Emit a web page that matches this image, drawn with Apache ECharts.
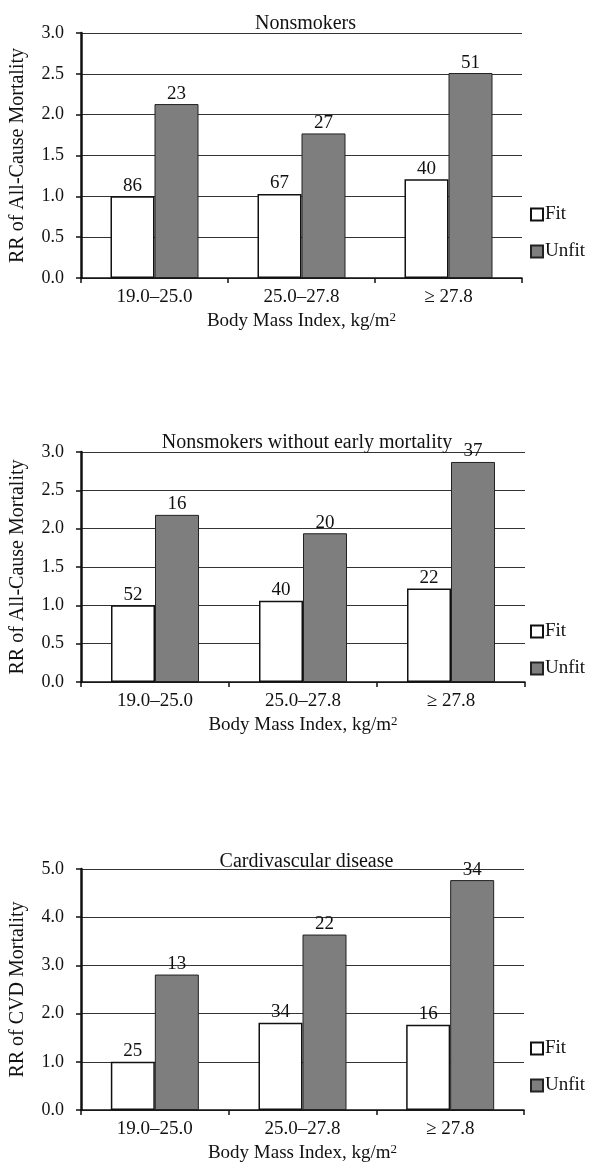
<!DOCTYPE html>
<html>
<head>
<meta charset="utf-8">
<script src="https://cdn.jsdelivr.net/npm/echarts@6/dist/echarts.min.js"></script>
<style>
html,body{margin:0;padding:0;background:#fff;}
#main{width:596px;height:1169px;}
</style>
</head>
<body>
<div id="main"></div>
<script>
// ---- data ----
var categories = ['19.0\u201325.0', '25.0\u201327.8', '\u2265 27.8'];
var panelTitles = ['Nonsmokers', 'Nonsmokers without early mortality', 'Cardivascular disease'];
var yNames = ['RR of All-Cause Mortality', 'RR of All-Cause Mortality', 'RR of CVD Mortality'];
var seriesNames = ['Fit', 'Unfit'];

var fit1 = [1.0, 1.03, 1.21];
var unfit1 = [2.13, 1.77, 2.51];
var fitN1 = [86, 67, 40];
var unfitN1 = [23, 27, 51];

var fit2 = [1.0, 1.06, 1.22];
var unfit2 = [2.18, 1.94, 2.87];
var fitN2 = [52, 40, 22];
var unfitN2 = [16, 20, 37];

var fit3 = [1.0, 1.81, 1.77];
var unfit3 = [2.81, 3.64, 4.77];
var fitN3 = [25, 34, 16];
var unfitN3 = [13, 22, 34];

var yMax = [3.0, 3.0, 5.0];
var yInterval = [0.5, 0.5, 1.0];

// ---- layout ----
var grids = [
  {left: 81, width: 441, top: 33, height: 245},
  {left: 81, width: 444, top: 452, height: 230},
  {left: 81, width: 443, top: 869, height: 241}
];
var titleTops = [8, 427, 846];
var legendTops = [200, 617, 1034];

var FONT = 'Liberation Serif';
var FS = 19;
var fits = [fit1, fit2, fit3], unfits = [unfit1, unfit2, unfit3];
var fitNs = [fitN1, fitN2, fitN3], unfitNs = [unfitN1, unfitN2, unfitN3];

var option = {
  animation: false,
  backgroundColor: '#fff',
  textStyle: {fontFamily: FONT, color: '#111'},
  title: [], grid: [], xAxis: [], yAxis: [], legend: [], series: []
};

for (var i = 0; i < 3; i++) {
  var g = grids[i];
  option.grid.push({left: g.left, width: g.width, top: g.top, height: g.height, containLabel: false});
  option.title.push({
    text: panelTitles[i], left: g.left + g.width / 2 - 1, top: titleTops[i], textAlign: 'center',
    textStyle: {fontFamily: FONT, fontSize: 20, fontWeight: 'normal', color: '#111', lineHeight: 22}
  });
  option.xAxis.push({
    type: 'category', gridIndex: i, data: categories,
    axisLine: {show: true, lineStyle: {color: '#111', width: 1.5}},
    axisTick: {show: true, length: 5, lineStyle: {color: '#111', width: 1.5}},
    axisLabel: {fontFamily: FONT, fontSize: FS, color: '#111', margin: 10},
    name: 'Body Mass Index, kg/m{sup|2}', nameLocation: 'middle', nameGap: 33,
    nameTextStyle: {fontFamily: FONT, fontSize: FS, color: '#111',
      rich: {sup: {fontFamily: FONT, fontSize: 13, color: '#111', verticalAlign: 'top', padding: [0, 0, 8, 0]}}}
  });
  option.yAxis.push({
    type: 'value', gridIndex: i, min: 0, max: yMax[i], interval: yInterval[i],
    axisLine: {show: true, lineStyle: {color: '#111', width: 2.5}},
    axisTick: {show: true, length: 5, lineStyle: {color: '#111', width: 1.5}},
    axisLabel: {fontFamily: FONT, fontSize: 18, color: '#111', margin: 17,
      formatter: function (v) { return v.toFixed(1); }},
    splitLine: {show: true, lineStyle: {color: '#333', width: 1}},
    name: yNames[i], nameLocation: 'middle', nameRotate: 90, nameGap: 53,
    nameTextStyle: {fontFamily: FONT, fontSize: 20, color: '#111'}
  });
  option.legend.push({
    data: seriesNames, orient: 'vertical', left: 525, top: legendTops[i],
    itemWidth: 12, itemHeight: 12, itemGap: 18, icon: 'rect', selectedMode: false,
    textStyle: {fontFamily: FONT, fontSize: FS, color: '#111', lineHeight: 19, padding: [0, 0, 0, -3]}
  });
  (function (fitN, unfitN) {
    option.series.push({
      name: 'Fit', type: 'bar', xAxisIndex: i, yAxisIndex: i, data: fits[i],
      barWidth: 44, barGap: '0%',
      itemStyle: {color: '#ffffff', borderColor: '#111', borderWidth: 1.5},
      label: {show: true, position: 'top', distance: 1, fontFamily: FONT, fontSize: FS, color: '#111',
        formatter: function (p) { return fitN[p.dataIndex]; }}
    });
    option.series.push({
      name: 'Unfit', type: 'bar', xAxisIndex: i, yAxisIndex: i, data: unfits[i],
      barWidth: 44, barGap: '0%',
      itemStyle: {color: '#7e7e7e', borderColor: '#222', borderWidth: 1},
      label: {show: true, position: 'top', distance: 1, fontFamily: FONT, fontSize: FS, color: '#111',
        formatter: function (p) { return unfitN[p.dataIndex]; }}
    });
  })(fitNs[i], unfitNs[i]);
}

var chart = echarts.init(document.getElementById('main'), null, {renderer: 'canvas'});
chart.setOption(option);
</script>
</body>
</html>
